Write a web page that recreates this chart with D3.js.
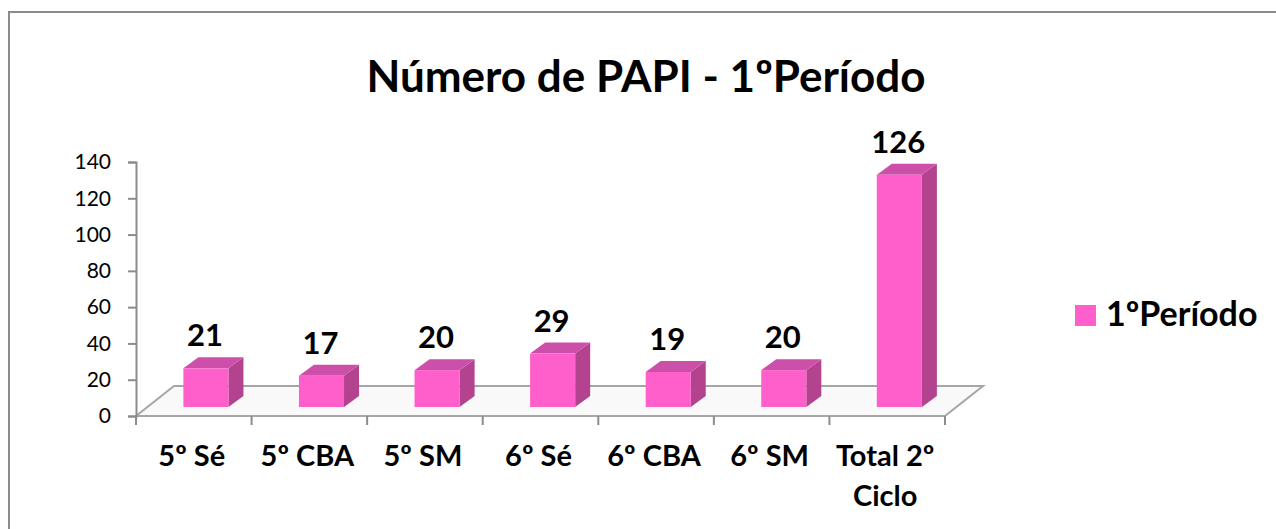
<!DOCTYPE html>
<html>
  <head>
    <meta charset="utf-8" />
    <title>Número de PAPI - 1ºPeríodo</title>
    <script src="https://d3js.org/d3.v7.min.js"></script>
    <style>
      body { margin: 0; background: white; }
      text { font-family: Lato, "Open Sans", sans-serif; fill: black; }
    </style>
  </head>
  <body>
    <svg id="chart" width="1276" height="529"></svg>
  </body>
  <script>
    // data
    var categories = ["5º Sé", "5º CBA", "5º SM", "6º Sé", "6º CBA", "6º SM", "Total 2º Ciclo"];
    var values = [21, 17, 20, 29, 19, 20, 126];
    var yTicks = [0, 20, 40, 60, 80, 100, 120, 140];
    var seriesName = "1ºPeríodo";
    var chartTitle = "Número de PAPI - 1ºPeríodo";

    var svg = d3.select("#chart");

    // chart border (right and bottom edges fall outside the picture)
    svg.append("rect")
      .attr("x", 9).attr("y", 12)
      .attr("width", 1300).attr("height", 600)
      .attr("fill", "white")
      .attr("stroke", "#8c8c8c")
      .attr("stroke-width", 2);

    // title
    svg.append("text")
      .attr("x", 646).attr("y", 92)
      .attr("text-anchor", "middle")
      .style("font-size", "44px")
      .style("font-weight", "bold")
      .text(chartTitle);

    // scales
    var x = d3.scaleBand()
      .domain(categories)
      .range([136, 945])
      .padding(0);
    var step = x.step();

    var y = d3.scaleLinear().domain([0, 140]).range([416, 162]);
    // bars stand further back on the floor, so their base is higher
    var yBar = d3.scaleLinear().domain([0, 140]).range([407, 149]);

    // floor depth and bar depth
    var floorDx = 38, floorDy = 30;
    var barDx = 15, barDy = 11;

    // floor
    svg.append("path")
      .attr("d", "M" + x.range()[0] + "," + y(0) +
                 "L" + x.range()[1] + "," + y(0) +
                 "L" + (x.range()[1] + floorDx) + "," + (y(0) - floorDy) +
                 "L" + (x.range()[0] + floorDx) + "," + (y(0) - floorDy) + "Z")
      .attr("fill", "#f9f9f9")
      .attr("stroke", "#a6a6a6")
      .attr("stroke-width", 2);

    // y axis
    var yAxis = d3.axisLeft(y)
      .tickValues(yTicks)
      .tickSize(8)
      .tickPadding(17);
    var gy = svg.append("g")
      .attr("transform", "translate(136,0)")
      .call(yAxis);
    gy.select(".domain").attr("stroke", "#8c8c8c").attr("stroke-width", 2);
    gy.selectAll(".tick line").attr("stroke", "#8c8c8c").attr("stroke-width", 2);
    gy.selectAll(".tick text")
      .style("font-size", "21px")
      .style("font-family", "Lato, sans-serif")
      .attr("fill", "black");

    // x axis tick marks at category edges
    var edges = categories.map(function(c) { return x(c); }).concat([x.range()[1]]);
    svg.selectAll(".xtick")
      .data(edges)
      .enter().append("line")
      .attr("class", "xtick")
      .attr("x1", function(d) { return d; })
      .attr("x2", function(d) { return d; })
      .attr("y1", y(0))
      .attr("y2", y(0) + 9)
      .attr("stroke", "#8c8c8c")
      .attr("stroke-width", 2);

    // x labels (long one wraps on two lines)
    var xl = svg.selectAll(".xlabel")
      .data(categories)
      .enter().append("text")
      .attr("class", "xlabel")
      .attr("text-anchor", "middle")
      .style("font-size", "29px")
      .style("font-weight", "bold");
    xl.each(function(c) {
      var lines = c === "Total 2º Ciclo" ? ["Total 2º", "Ciclo"] : [c];
      var t = d3.select(this);
      lines.forEach(function(line, i) {
        t.append("tspan")
          .attr("x", x(c) + step / 2 - 2)
          .attr("y", 466 + i * 39.5)
          .text(line);
      });
    });

    // 3d bars
    var barW = step * 0.39;
    var barLeft = function(c) { return x(c) + step * 0.41; };

    var bars = svg.selectAll(".bar")
      .data(categories)
      .enter().append("g")
      .attr("class", "bar");

    // side face
    bars.append("path")
      .attr("fill", "#b3438f")
      .attr("d", function(c, i) {
        var x1 = barLeft(c) + barW, top = yBar(values[i]), base = yBar(0);
        return "M" + x1 + "," + top + "L" + (x1 + barDx) + "," + (top - barDy) +
               "L" + (x1 + barDx) + "," + (base - barDy) + "L" + x1 + "," + base + "Z";
      });
    // top face
    bars.append("path")
      .attr("fill", "#cc4faa")
      .attr("d", function(c, i) {
        var x0 = barLeft(c), top = yBar(values[i]);
        return "M" + x0 + "," + top + "L" + (x0 + barW) + "," + top +
               "L" + (x0 + barW + barDx) + "," + (top - barDy) +
               "L" + (x0 + barDx) + "," + (top - barDy) + "Z";
      });
    // front face
    bars.append("rect")
      .attr("fill", "#ff5fcb")
      .attr("x", function(c) { return barLeft(c); })
      .attr("y", function(c, i) { return yBar(values[i]); })
      .attr("width", barW)
      .attr("height", function(c, i) { return yBar(0) - yBar(values[i]); });

    // value labels
    svg.selectAll(".vlabel")
      .data(values)
      .enter().append("text")
      .attr("class", "vlabel")
      .attr("text-anchor", "middle")
      .attr("x", function(d, i) { return barLeft(categories[i]) + barW / 2 - 1; })
      .attr("y", function(d) { return yBar(d) - 22; })
      .style("font-size", "31px")
      .style("font-weight", "bold")
      .text(function(d) { return d; });

    // legend
    svg.append("rect")
      .attr("x", 1075).attr("y", 305)
      .attr("width", 21).attr("height", 21)
      .attr("fill", "#ff5fcb");
    svg.append("text")
      .attr("x", 1106).attr("y", 326)
      .style("font-size", "34px")
      .style("font-weight", "bold")
      .text(seriesName);
  </script>
</html>
